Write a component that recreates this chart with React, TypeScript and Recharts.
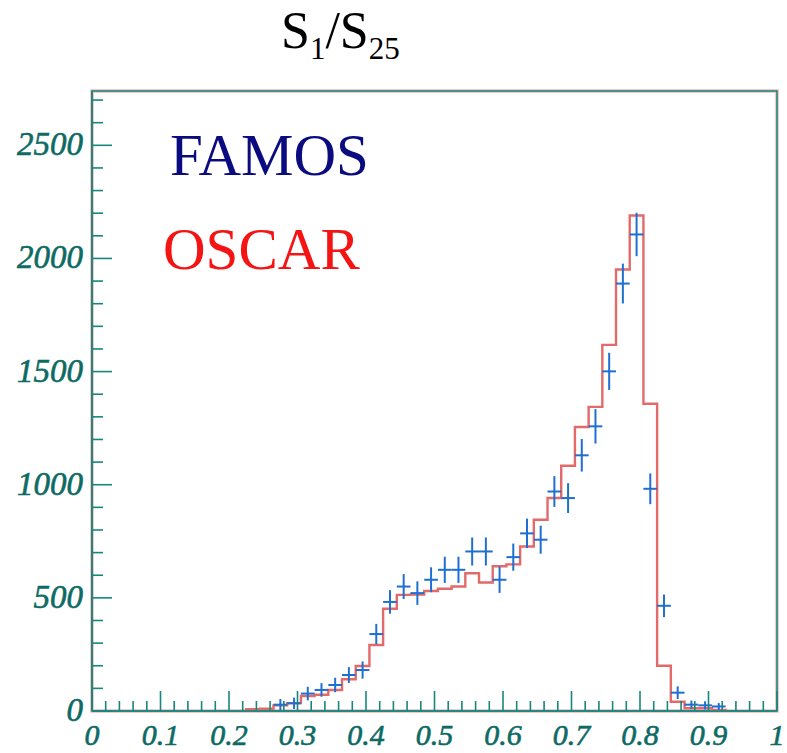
import React from 'react';
import {
  ComposedChart,
  Line,
  Scatter,
  XAxis,
  YAxis,
  ErrorBar,
  ReferenceArea,
} from 'recharts';

// OSCAR histogram: bin centres and counts (bin width 0.02)
const oscarBinCentres = [
  0.235, 0.255, 0.275, 0.295, 0.315, 0.335, 0.355, 0.375, 0.395, 0.415,
  0.435, 0.455, 0.475, 0.495, 0.515, 0.535, 0.555, 0.575, 0.595, 0.615,
  0.635, 0.655, 0.675, 0.695, 0.715, 0.735, 0.755, 0.775, 0.795, 0.815,
  0.835, 0.855, 0.875, 0.895, 0.915,
];
const oscarCounts = [
  8, 10, 25, 35, 66, 72, 93, 140, 199, 292,
  452, 513, 515, 530, 540, 550, 609, 568, 640, 648,
  727, 845, 941, 1084, 1255, 1344, 1618, 1951, 2190, 1358,
  200, 41, 12, 12, 5,
];

// FAMOS points with statistical errors
const famosBinCentres = [
  0.275, 0.295, 0.315, 0.335, 0.355, 0.375, 0.395, 0.415, 0.435, 0.455,
  0.475, 0.495, 0.515, 0.535, 0.555, 0.575, 0.595, 0.615, 0.635, 0.655,
  0.675, 0.695, 0.715, 0.735, 0.755, 0.775, 0.795, 0.815, 0.835, 0.855,
  0.875, 0.895, 0.915,
];
const famosCounts = [
  28, 34, 77, 93, 115, 159, 181, 340, 482, 550,
  521, 580, 624, 624, 705, 705, 580, 680, 785, 757,
  970, 941, 1130, 1258, 1501, 1889, 2106, 982, 465, 81,
  28, 25, 20,
];
const famosErrors = [
  25, 25, 30, 30, 32, 35, 38, 45, 52, 55,
  52, 55, 58, 58, 62, 62, 58, 60, 65, 62,
  68, 66, 72, 76, 82, 88, 96, 68, 50, 28,
  18, 18, 15,
];
const binHalfWidth = 0.01;

// axis labels
const xTickLabels = ['0', '0.1', '0.2', '0.3', '0.4', '0.5', '0.6', '0.7', '0.8', '0.9', '1'];
const yTickLabels = ['0', '500', '1000', '1500', '2000', '2500'];

const Y_MAX = 2740;
const AXIS = '#15877f';
const LABEL = '#0d6a64';
const FONT = 'Liberation Serif';

// minor ticks: 0.02 on x, 100 on y
const xTicks: number[] = [];
for (let i = 0; i <= 50; i++) xTicks.push(Math.round(i * 2) / 100);
const yTicks: number[] = [];
for (let i = 0; i <= 27; i++) yTicks.push(i * 100);

// step outline of the histogram
const oscarLine: { x: number; y: number }[] = [];
oscarLine.push({ x: oscarBinCentres[0] - binHalfWidth, y: 0 });
oscarBinCentres.forEach((c, i) => oscarLine.push({ x: c - binHalfWidth, y: oscarCounts[i] }));
oscarLine.push({ x: oscarBinCentres[oscarBinCentres.length - 1] + binHalfWidth, y: 0 });

const famosPoints = famosBinCentres.map((c, i) => ({
  x: c,
  y: famosCounts[i],
  ex: binHalfWidth,
  ey: famosErrors[i],
}));

const XTick = (props: any) => {
  const { x, y, payload } = props;
  const v = payload.value as number;
  const idx = Math.round(v * 10);
  const major = Math.abs(v * 10 - idx) < 1e-6;
  return (
    <g>
      <line x1={x} x2={x} y1={y} y2={y - (major ? 20 : 10)} stroke={AXIS} strokeWidth={1.6} />
      {major && (
        <text
          x={x}
          y={y + 34}
          textAnchor="middle"
          fontFamily={FONT}
          fontStyle="italic"
          fontSize={30}
          stroke={LABEL}
          strokeWidth={0.6}
          fill={LABEL}
        >
          {xTickLabels[idx]}
        </text>
      )}
    </g>
  );
};

const YTick = (props: any) => {
  const { x, y, payload } = props;
  const v = payload.value as number;
  const major = v % 500 === 0;
  return (
    <g>
      <line x1={x} x2={x + (major ? 20 : 11)} y1={y} y2={y} stroke={AXIS} strokeWidth={1.6} />
      {major && (
        <text
          x={x - 9}
          y={y + 10}
          textAnchor="end"
          fontFamily={FONT}
          fontStyle="italic"
          fontSize={33}
          stroke={LABEL}
          strokeWidth={0.6}
          fill={LABEL}
        >
          {yTickLabels[v / 500]}
        </text>
      )}
    </g>
  );
};

const NoMarker = () => <g />;

export default function App() {
  return (
    <div style={{ position: 'absolute', left: 0, top: 0, width: 787, height: 753, background: '#ffffff' }}>
      <ComposedChart
        width={787}
        height={753}
        margin={{ top: 91, right: 10, bottom: 0, left: 0 }}
      >
        <XAxis
          type="number"
          dataKey="x"
          domain={[0, 1]}
          ticks={xTicks}
          interval={0}
          tickSize={0}
          tickMargin={0}
          tick={(p: any) => <XTick {...p} />}
          axisLine={{ stroke: AXIS, strokeWidth: 1.6 }}
          height={42}
          allowDataOverflow
        />
        <YAxis
          type="number"
          dataKey="y"
          domain={[0, Y_MAX]}
          ticks={yTicks}
          interval={0}
          tickSize={0}
          tickMargin={0}
          tick={(p: any) => <YTick {...p} />}
          axisLine={{ stroke: AXIS, strokeWidth: 1.6 }}
          width={92}
          allowDataOverflow
        />
        <ReferenceArea
          x1={0}
          x2={1}
          y1={0}
          y2={Y_MAX}
          fill="none"
          stroke="#f2b6b6"
          strokeWidth={3.5}
          ifOverflow="visible"
        />
        <ReferenceArea
          x1={0}
          x2={1}
          y1={0}
          y2={Y_MAX}
          fill="none"
          stroke={AXIS}
          strokeWidth={1.5}
          ifOverflow="visible"
        />
        <Line
          data={oscarLine}
          dataKey="y"
          type="stepAfter"
          stroke="#e26a6a"
          strokeWidth={2.4}
          dot={false}
          activeDot={false}
          isAnimationActive={false}
        />
        <Scatter data={famosPoints} dataKey="y" shape={NoMarker} isAnimationActive={false}>
          <ErrorBar dataKey="ey" direction="y" width={0} stroke="#1f6fd1" strokeWidth={2} />
          <ErrorBar dataKey="ex" direction="x" width={0} stroke="#1f6fd1" strokeWidth={2} />
        </Scatter>
      </ComposedChart>
      <svg
        width={787}
        height={753}
        style={{ position: 'absolute', left: 0, top: 0, pointerEvents: 'none' }}
      >
        <text x={281} y={48} fontFamily={FONT} fontSize={52} fill="#000000">
          S
          <tspan fontSize={31} dy={11}>1</tspan>
          <tspan dy={-11}>/S</tspan>
          <tspan fontSize={31} dy={11}>25</tspan>
        </text>
        <text x={170} y={175} fontFamily={FONT} fontSize={59} fill="#0b0b80">
          FAMOS
        </text>
        <text x={163} y={269} fontFamily={FONT} fontSize={59} fill="#f41414">
          OSCAR
        </text>
      </svg>
    </div>
  );
}
